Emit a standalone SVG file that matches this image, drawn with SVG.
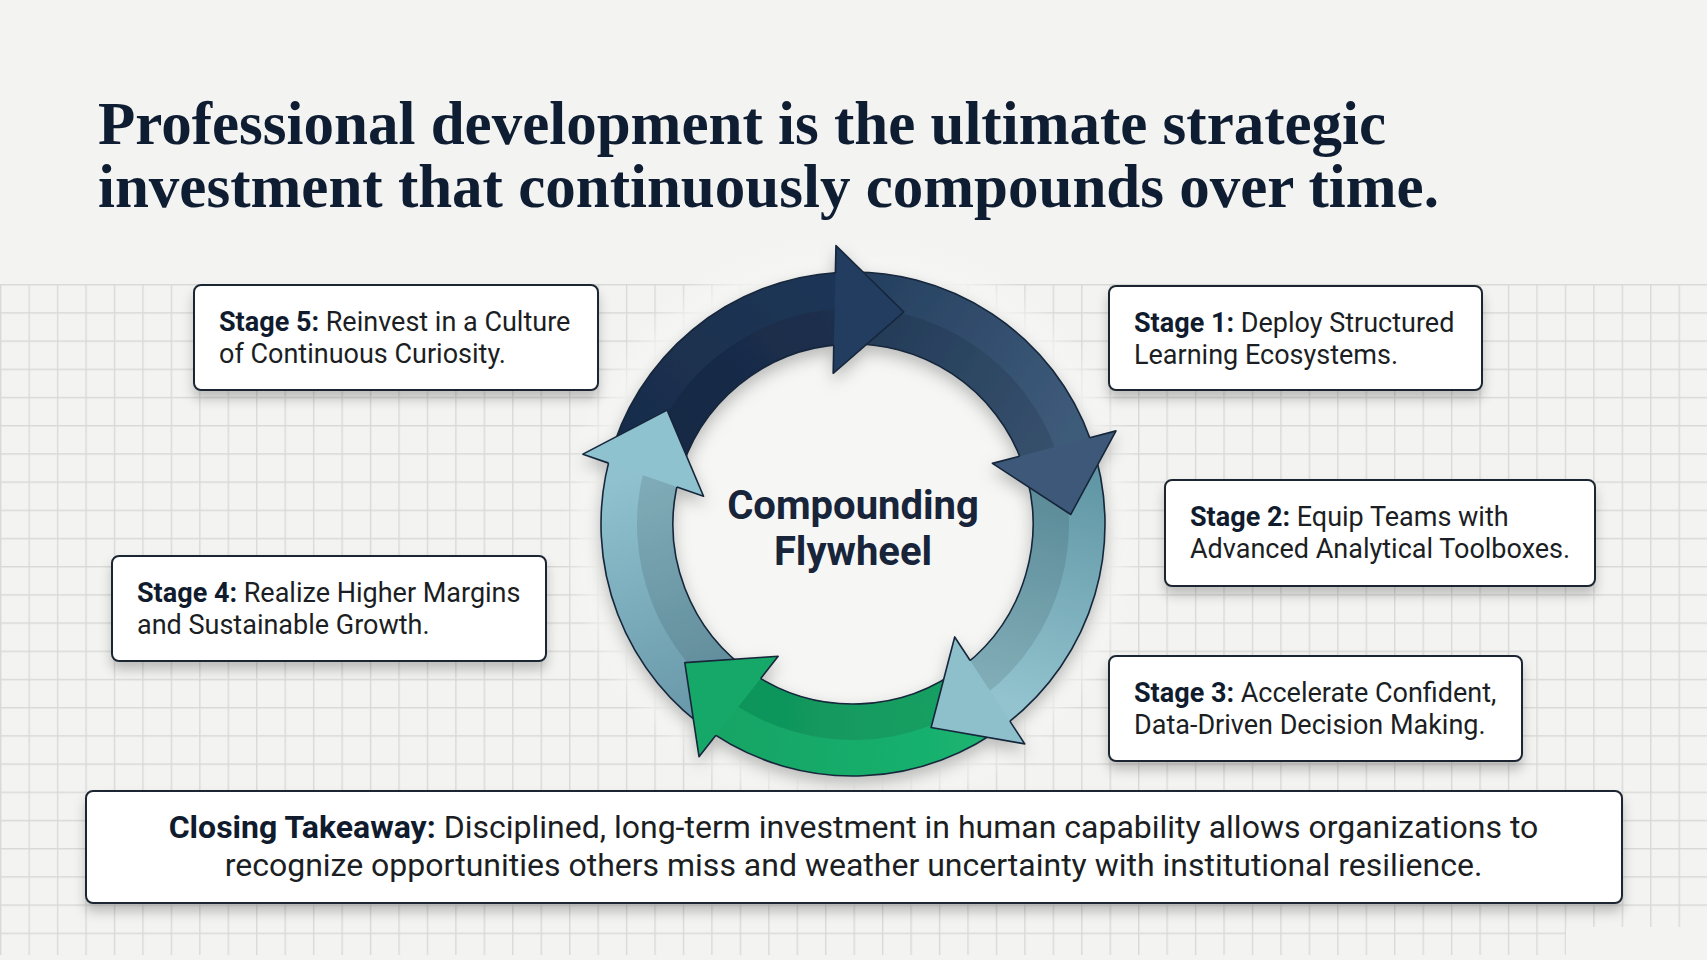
<svg xmlns="http://www.w3.org/2000/svg" width="1707" height="960" viewBox="0 0 1707 960">
<defs>
<style>
.box{fill:#ffffff;stroke:#1e2833;stroke-width:2}
.st{font-family:Roboto,'Liberation Sans',sans-serif;font-size:27px;fill:#1b1e23}
.cl{font-family:Roboto,'Liberation Sans',sans-serif;font-size:32px;fill:#1b1e23}
.b{font-weight:700;fill:#101c2e}
.title{font-family:'Liberation Serif',serif;font-weight:700;font-size:61px;fill:#0f1d33}
.hub{font-family:Roboto,'Liberation Sans',sans-serif;font-weight:700;font-size:40px;fill:#17243a}
.ol{fill:none;stroke:#16263b;stroke-width:1.6;stroke-linejoin:round}
.shade{fill:#000000;opacity:0.1}
</style>
<pattern id="gp" width="28.45" height="28.2" patternUnits="userSpaceOnUse" x="0" y="284">
<path d="M0 0.7H28.45M0.7 0V28.2" stroke="#d9d9d7" stroke-width="1.4" fill="none"/>
</pattern>
<filter id="sh" x="-10%" y="-30%" width="120%" height="180%">
<feDropShadow dx="0" dy="8" stdDeviation="6" flood-color="#000" flood-opacity="0.22"/>
</filter>
<filter id="rsh" x="-20%" y="-20%" width="140%" height="140%">
<feDropShadow dx="0" dy="7" stdDeviation="8" flood-color="#000" flood-opacity="0.25"/>
</filter>
<radialGradient id="glow" cx="853" cy="524" r="292" gradientUnits="userSpaceOnUse">
<stop offset="0" stop-color="#f6f6f4" stop-opacity="1"/>
<stop offset="0.87" stop-color="#f6f6f4" stop-opacity="1"/>
<stop offset="1" stop-color="#f6f6f4" stop-opacity="0"/>
</radialGradient>
<linearGradient id="gA" gradientUnits="userSpaceOnUse" x1="643.88" y1="469.92" x2="839.81" y2="308.40">
<stop offset="0" stop-color="#182c4a"/><stop offset="1" stop-color="#1f3656"/>
</linearGradient>
<linearGradient id="gB" gradientUnits="userSpaceOnUse" x1="839.81" y1="308.40" x2="1056.61" y2="451.90">
<stop offset="0" stop-color="#253f5f"/><stop offset="1" stop-color="#3e5b7a"/>
</linearGradient>
<linearGradient id="gC" gradientUnits="userSpaceOnUse" x1="1056.61" y1="451.90" x2="985.98" y2="694.21">
<stop offset="0" stop-color="#5e94a3"/><stop offset="1" stop-color="#92c3ce"/>
</linearGradient>
<linearGradient id="gD" gradientUnits="userSpaceOnUse" x1="985.98" y1="694.21" x2="733.78" y2="704.12">
<stop offset="0" stop-color="#1bb470"/><stop offset="1" stop-color="#12a565"/>
</linearGradient>
<linearGradient id="gE" gradientUnits="userSpaceOnUse" x1="733.78" y1="704.12" x2="643.88" y2="469.92">
<stop offset="0" stop-color="#6898a9"/><stop offset="1" stop-color="#8fc1ce"/>
</linearGradient>
</defs>

<rect x="0" y="0" width="1707" height="960" fill="#f3f3f1"/>
<rect x="0" y="284" width="1707" height="671" fill="url(#gp)"/>
<rect x="1566" y="927" width="141" height="33" fill="#f3f3f1"/>

<g id="title">
<text class="title" x="98" y="144">Professional development is the ultimate strategic</text>
<text class="title" x="98" y="207">investment that continuously compounds over time.</text>
</g>

<g id="flywheel">
<circle cx="853" cy="524" r="292" fill="url(#glow)"/>
<g filter="url(#rsh)">
<g id="bodies">
<path fill="url(#gA)" d="M609.03 460.90A252 252 0 0 1 837.62 272.47L842.01 344.34A180 180 0 0 0 678.73 478.93Z"/>
<path class="shade" d="M643.88 469.92A216 216 0 0 1 839.81 308.40L842.01 344.34A180 180 0 0 0 678.73 478.93Z"/>
<path class="ol" d="M609.03 460.90A252 252 0 0 1 837.62 272.47L842.01 344.34A180 180 0 0 0 678.73 478.93Z"/>

<path fill="url(#gB)" d="M837.62 272.47A252 252 0 0 1 1090.55 439.88L1022.68 463.91A180 180 0 0 0 842.01 344.34Z"/>
<path class="shade" d="M839.81 308.40A216 216 0 0 1 1056.61 451.90L1022.68 463.91A180 180 0 0 0 842.01 344.34Z"/>
<path class="ol" d="M837.62 272.47A252 252 0 0 1 1090.55 439.88L1022.68 463.91A180 180 0 0 0 842.01 344.34Z"/>

<path fill="url(#gC)" d="M1090.55 439.88A252 252 0 0 1 1008.15 722.58L963.82 665.84A180 180 0 0 0 1022.68 463.91Z"/>
<path class="shade" d="M1056.61 451.90A216 216 0 0 1 985.98 694.21L963.82 665.84A180 180 0 0 0 1022.68 463.91Z"/>
<path class="ol" d="M1090.55 439.88A252 252 0 0 1 1008.15 722.58L963.82 665.84A180 180 0 0 0 1022.68 463.91Z"/>

<path fill="url(#gD)" d="M1008.15 722.58A252 252 0 0 1 713.91 734.14L753.65 674.10A180 180 0 0 0 963.82 665.84Z"/>
<path class="shade" d="M985.98 694.21A216 216 0 0 1 733.78 704.12L753.65 674.10A180 180 0 0 0 963.82 665.84Z"/>
<path class="ol" d="M1008.15 722.58A252 252 0 0 1 713.91 734.14L753.65 674.10A180 180 0 0 0 963.82 665.84Z"/>

<path fill="url(#gE)" d="M713.91 734.14A252 252 0 0 1 609.03 460.90L678.73 478.93A180 180 0 0 0 753.65 674.10Z"/>
<path class="shade" d="M733.78 704.12A216 216 0 0 1 643.88 469.92L678.73 478.93A180 180 0 0 0 753.65 674.10Z"/>
<path class="ol" d="M713.91 734.14A252 252 0 0 1 609.03 460.90L678.73 478.93A180 180 0 0 0 753.65 674.10Z"/>
</g>
<g id="heads">
<polygon fill="#213c5e" points="833.16,373.30 903.89,312.02 835.97,245.52"/>
<polyline class="ol" points="833.78,345.12 833.16,373.30 903.89,312.02 835.97,245.52 835.37,272.74"/>

<polygon fill="#3d5978" points="992.39,463.39 1070.79,514.49 1116.00,430.87"/>
<polyline class="ol" points="1019.65,456.22 992.39,463.39 1070.79,514.49 1116.00,430.87 1089.67,437.80"/>

<polygon fill="#8ec0cc" points="954.71,636.96 931.12,727.52 1024.77,743.86"/>
<polyline class="ol" points="970.16,660.53 954.71,636.96 931.12,727.52 1024.77,743.86 1009.85,721.09"/>

<polygon fill="#14a867" points="778.15,656.29 684.79,662.67 699.01,756.66"/>
<polyline class="ol" points="760.70,678.42 778.15,656.29 684.79,662.67 699.01,756.66 715.87,735.28"/>

<polygon fill="#8fc2cf" points="703.55,496.30 667.12,410.09 582.89,454.14"/>
<polyline class="ol" points="676.94,487.00 703.55,496.30 667.12,410.09 582.89,454.14 608.59,463.12"/>
</g>
</g>
<text class="hub" x="853" y="519" text-anchor="middle">Compounding</text>
<text class="hub" x="853" y="565" text-anchor="middle">Flywheel</text>
</g>

<g id="stage5">
<rect class="box" filter="url(#sh)" x="194" y="285" width="404" height="105" rx="7"/>
<text class="st" x="219" y="331"><tspan class="b">Stage 5:</tspan> Reinvest in a Culture</text>
<text class="st" x="219" y="363">of Continuous Curiosity.</text>
</g>
<g id="stage1">
<rect class="box" filter="url(#sh)" x="1109" y="286" width="373" height="104" rx="7"/>
<text class="st" x="1134" y="332"><tspan class="b">Stage 1:</tspan> Deploy Structured</text>
<text class="st" x="1134" y="364">Learning Ecosystems.</text>
</g>
<g id="stage2">
<rect class="box" filter="url(#sh)" x="1165" y="480" width="430" height="106" rx="7"/>
<text class="st" x="1190" y="526"><tspan class="b">Stage 2:</tspan> Equip Teams with</text>
<text class="st" x="1190" y="558">Advanced Analytical Toolboxes.</text>
</g>
<g id="stage3">
<rect class="box" filter="url(#sh)" x="1109" y="656" width="413" height="105" rx="7"/>
<text class="st" x="1134" y="702"><tspan class="b">Stage 3:</tspan> Accelerate Confident,</text>
<text class="st" x="1134" y="734">Data-Driven Decision Making.</text>
</g>
<g id="stage4">
<rect class="box" filter="url(#sh)" x="112" y="556" width="434" height="105" rx="7"/>
<text class="st" x="137" y="602"><tspan class="b">Stage 4:</tspan> Realize Higher Margins</text>
<text class="st" x="137" y="634">and Sustainable Growth.</text>
</g>
<g id="closing">
<rect class="box" filter="url(#sh)" x="86" y="791" width="1536" height="112" rx="7"/>
<text class="cl" x="853.5" y="838" text-anchor="middle"><tspan class="b">Closing Takeaway:</tspan> Disciplined, long-term investment in human capability allows organizations to</text>
<text class="cl" x="853.5" y="876" text-anchor="middle">recognize opportunities others miss and weather uncertainty with institutional resilience.</text>
</g>
</svg>
